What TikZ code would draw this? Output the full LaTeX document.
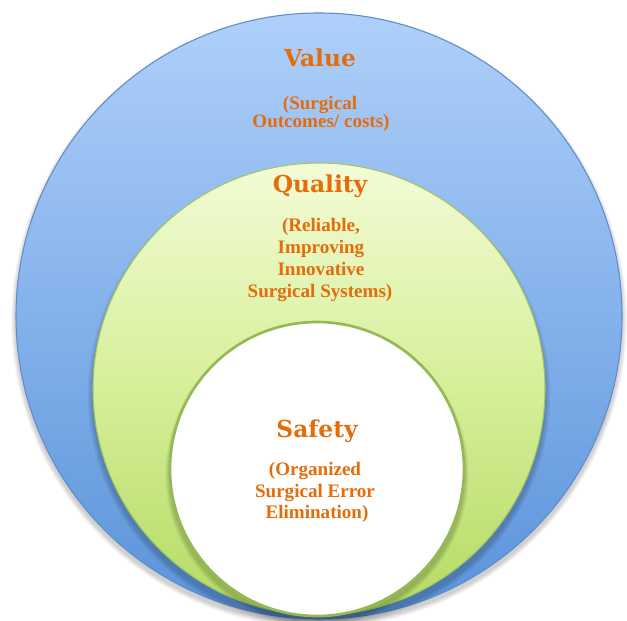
\documentclass[tikz,border=0pt]{standalone}
\usepackage{fontspec}
\setmainfont{DejaVu Serif}
\newfontfamily\labelfont{Liberation Serif}
\definecolor{txtorange}{HTML}{E46C0A}
\definecolor{bluetop}{HTML}{AFD0F9}
\definecolor{bluemid}{HTML}{84B1EB}
\definecolor{bluebot}{HTML}{5A93D9}
\definecolor{blueedge}{HTML}{5F8DCB}
\definecolor{greentop}{HTML}{F3FBD6}
\definecolor{greenmid}{HTML}{D5EF98}
\definecolor{greenbot}{HTML}{B4DA64}
\definecolor{greenedge}{HTML}{A3C65C}
\definecolor{ringedge}{HTML}{97B857}
\begin{document}
\begin{tikzpicture}[x=0.75pt,y=-0.75pt,
  disc/.style={circle, inner sep=0pt},
  title/.style={font=\bfseries\fontsize{17.5}{20}\selectfont, text=txtorange, anchor=base, inner sep=0pt},
  body/.style={font=\labelfont\bfseries\fontsize{14.3}{16}\selectfont, text=txtorange, anchor=base, inner sep=0pt},
  softshadow/.style={fill=black, opacity=0.04}]
\useasboundingbox (0,0) rectangle (627,620);

% outer ring: Value
\foreach \k in {1,...,5}
  \fill[softshadow] (319,320) circle[radius={227.25pt+\k*0.7pt}];
\node[disc, minimum size=454.5pt, top color=bluetop, bottom color=bluebot,
      middle color=bluemid, draw=blueedge, line width=0.8pt] (value) at (319,316) {};

% middle ring: Quality (shadow falls below only)
\foreach \k in {1,...,5}
  \fill[softshadow] (319,395) circle[radius={169.5pt+\k*0.8pt}];
\node[disc, minimum size=339pt, top color=greentop, bottom color=greenbot,
      middle color=greenmid, draw=greenedge, line width=0.8pt] (quality) at (319,389) {};

% inner core: Safety
\foreach \k in {1,...,5}
  \fill[softshadow] (317,474) circle[radius={110.25pt+\k*0.7pt}];
\node[disc, minimum size=220.5pt, fill=white, draw=ringedge, line width=2pt] (safety) at (317,469) {};

% labels
\node[title] (vt) at (320,67) {Value};
\node[body] (v1) at (320,110) {(Surgical};
\node[body] (v2) at (321,128) {Outcomes/ costs)};

\node[title] (qt) at (320,193) {Quality};
\node[body] (q1) at (321,231) {(Reliable,};
\node[body] (q2) at (321,253) {Improving};
\node[body] (q3) at (321,275) {Innovative};
\node[body] (q4) at (320,297) {Surgical Systems)};

\node[title] (st) at (317,437) {Safety};
\node[body] (s1) at (315,475) {(Organized};
\node[body] (s2) at (315,497) {Surgical Error};
\node[body] (s3) at (317,518) {Elimination)};
\end{tikzpicture}
\end{document}
